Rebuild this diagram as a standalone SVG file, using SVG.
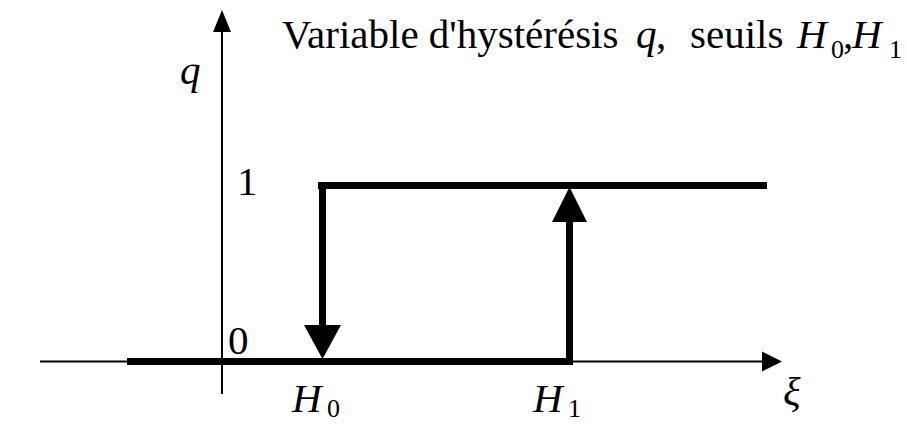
<svg xmlns="http://www.w3.org/2000/svg" width="907" height="425" viewBox="0 0 907 425">
<style>
text{font-family:'Liberation Serif','Times New Roman',serif;font-size:41px;fill:#000}
.i{font-style:italic}
.s{font-size:26px}
.axis{stroke:#000;stroke-width:2;fill:none}
.thick{stroke:#000;stroke-width:7;fill:none}
.head{fill:#000;stroke:none}
</style>
<rect width="907" height="425" fill="#fff"/>
<g id="connectors">
  <line class="axis" x1="40" y1="361.5" x2="764" y2="361.5"/>
  <polygon class="head" points="762,351.5 782,361.5 762,371.5"/>
  <line class="axis" x1="222" y1="394" x2="222" y2="30"/>
  <polygon class="head" points="213,32 222,10 231,32"/>
  <line class="thick" x1="127" y1="361.5" x2="573" y2="361.5"/>
  <line class="thick" x1="318" y1="185.5" x2="767" y2="185.5"/>
  <line class="thick" x1="322.5" y1="182" x2="322.5" y2="327"/>
  <polygon class="head" points="304,325 341,325 322.5,359"/>
  <line class="thick" x1="569.5" y1="220" x2="569.5" y2="365"/>
  <polygon class="head" points="552,222 587,222 569.5,187"/>
</g>
<g id="title">
  <text y="48"><tspan x="282">Variable d'hystérésis</tspan><tspan class="i" x="636">q</tspan><tspan x="656">,</tspan><tspan x="690">seuils</tspan><tspan class="i" x="797">H</tspan><tspan class="s" x="831" y="58">0</tspan><tspan x="843" y="48">,</tspan><tspan class="i" x="852">H</tspan><tspan class="s" x="889" y="58">1</tspan></text>
</g>
<g id="label-q"><text class="i" x="180" y="84">q</text></g>
<g id="label-1"><text x="237" y="195">1</text></g>
<g id="label-0"><text x="228" y="354">0</text></g>
<g id="label-H0"><text y="412"><tspan class="i" x="292">H</tspan><tspan class="s" x="327" y="417">0</tspan></text></g>
<g id="label-H1"><text y="412"><tspan class="i" x="533">H</tspan><tspan class="s" x="568" y="417">1</tspan></text></g>
<g id="label-xi"><text class="i" x="783" y="405">ξ</text></g>
</svg>
